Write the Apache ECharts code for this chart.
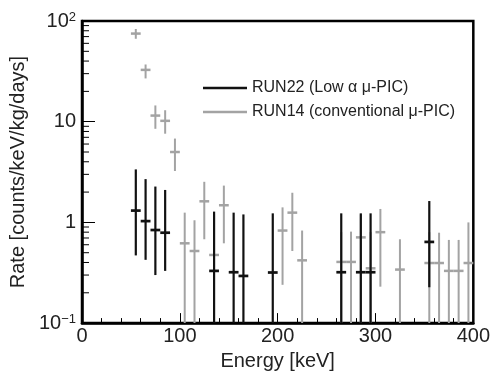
<!DOCTYPE html>
<html><head><meta charset="utf-8">
<script src="https://cdn.jsdelivr.net/npm/echarts@6/dist/echarts.min.js"></script>
<style>html,body{margin:0;padding:0;background:#fff}#c{width:493px;height:376px}</style>
</head><body><div id="c"></div>
<script>
// RUN22 (Low alpha u-PIC)
const energyRun22 = [55, 65, 75, 85, 135, 155, 165, 195, 265, 285, 295, 355];
const rateRun22   = [1.31, 1.03, 0.84, 0.79, 0.33, 0.32, 0.294, 0.318, 0.32, 0.32, 0.32, 0.64];
const lowRun22    = [0.47, 0.425, 0.30, 0.33, 0.01, 0.01, 0.01, 0.01, 0.01, 0.01, 0.01, 0.227];
const highRun22   = [3.36, 2.69, 2.27, 2.1, 1.28, 1.25, 1.2, 1.23, 1.23, 1.23, 1.23, 1.63];
// RUN14 (conventional u-PIC)
const energyRun14 = [55, 65, 75, 85, 95, 105, 115, 125, 135, 145, 205, 215, 225, 265, 275, 285, 295, 305, 325, 355, 365, 375, 385, 395];
const rateRun14   = [75, 32.7, 11.5, 10.2, 5.0, 0.62, 0.52, 1.62, 0.475, 1.48, 0.83, 1.25, 0.42, 0.405, 0.405, 0.71, 0.35, 0.8, 0.34, 0.395, 0.395, 0.33, 0.33, 0.395];
const lowRun14    = [66.6, 26.9, 8.5, 7.6, 3.24, 0.01, 0.01, 0.68, 0.01, 0.62, 0.24, 0.52, 0.01, 0.01, 0.01, 0.01, 0.01, 0.23, 0.01, 0.01, 0.01, 0.01, 0.01, 0.01];
const highRun14   = [83.3, 37, 14.5, 13, 6.8, 1.25, 1.05, 2.53, 1.2, 2.32, 1.41, 1.97, 0.83, 0.8, 0.81, 1.2, 0.8, 1.36, 0.68, 0.8, 0.79, 0.67, 0.67, 1.0];
const binHalfWidth = 5;
const xTicks = [0, 100, 200, 300, 400];
const yMinorTicks = [0.2,0.3,0.4,0.5,0.6,0.7,0.8,0.9,2,3,4,5,6,7,8,9,20,30,40,50,60,70,80,90];

const BLACK = '#111111', GRAY = '#a3a3a3';
const FONT = 'Liberation Sans, Arial, sans-serif';

function build(E, v, lo, hi) {
  return E.map((e, i) => [e, v[i], lo[i], hi[i]]);
}
function errRender(color, width) {
  return function (params, api) {
    const e = api.value(0), v = api.value(1), lo = api.value(2), hi = api.value(3);
    const pTop = api.coord([e, hi]);
    const pBot = api.coord([e, lo]);
    const pL = api.coord([e - binHalfWidth, v]);
    const pR = api.coord([e + binHalfWidth, v]);
    const style = { stroke: color, lineWidth: width, fill: null };
    return {
      type: 'group',
      children: [
        { type: 'line', shape: { x1: pTop[0], y1: pTop[1], x2: pBot[0], y2: pBot[1] }, style: style },
        { type: 'line', shape: { x1: pL[0], y1: pL[1], x2: pR[0], y2: pR[1] }, style: { stroke: color, lineWidth: width + 0.5, fill: null } }
      ]
    };
  };
}

const chart = echarts.init(document.getElementById('c'), null, { renderer: 'canvas' });
chart.setOption({
  animation: false,
  backgroundColor: '#fff',
  textStyle: { fontFamily: FONT },
  grid: { left: 75, right: 18, top: 21, bottom: 45, show: true, borderColor: '#000', borderWidth: 2.5, backgroundColor: 'transparent' },
  legend: {
    orient: 'vertical', left: 198, top: 75, itemWidth: 44, itemHeight: 2.5, itemGap: 8,
    icon: 'rect',
    textStyle: { fontFamily: FONT, fontSize: 16, color: '#222', padding: [0, 0, 0, 0] },
    data: ['RUN22 (Low α μ-PIC)', 'RUN14 (conventional μ-PIC)']
  },
  xAxis: {
    type: 'value', min: 0, max: 400, interval: 100,
    name: 'Energy [keV]', nameLocation: 'middle', nameGap: 22,
    nameTextStyle: { fontFamily: FONT, fontSize: 20, color: '#222' },
    axisLine: { show: true, lineStyle: { color: '#000', width: 2.5 } },
    axisTick: { show: true, inside: true, length: 10, lineStyle: { color: '#000', width: 1 } },
    minorTick: { show: true, splitNumber: 5, length: 5, lineStyle: { color: '#000', width: 1 } },
    axisLabel: { fontFamily: FONT, fontSize: 20, color: '#222', margin: 3,
      formatter: v => xTicks.includes(v) ? String(v) : '' },
    splitLine: { show: false }
  },
  yAxis: {
    type: 'log', min: 0.1, max: 100, logBase: 10,
    name: 'Rate [counts/keV/kg/days]', nameLocation: 'middle', nameGap: 54,
    nameTextStyle: { fontFamily: FONT, fontSize: 20, color: '#222' },
    axisLine: { show: true, lineStyle: { color: '#000', width: 2.5 } },
    axisTick: { show: true, inside: true, length: 13, lineStyle: { color: '#000', width: 1 } },
    axisLabel: {
      fontFamily: FONT, fontSize: 20, color: '#222', margin: 6,
      formatter: function (v) {
        if (Math.abs(v - 100) < 1e-6) return '{m|10}{s|2}';
        if (Math.abs(v - 0.1) < 1e-9) return '{m|10}{s|−1}';
        return '{m|' + Math.round(v) + '}';
      },
      rich: {
        m: { fontFamily: FONT, fontSize: 20, color: '#222' },
        s: { fontFamily: FONT, fontSize: 13, color: '#222', verticalAlign: 'top', padding: [0, 0, 8, 0] }
      }
    },
    splitLine: { show: false }
  },
  series: [
    {
      name: 'yMinor', type: 'custom', silent: true, clip: true, legendHoverLink: false,
      data: yMinorTicks.map(v => [0, v]),
      renderItem: function (params, api) {
        const p = api.coord([0, api.value(1)]);
        return { type: 'line', shape: { x1: p[0], y1: p[1], x2: p[0] + 7, y2: p[1] }, style: { stroke: '#000', lineWidth: 1 } };
      }
    },
    {
      name: 'RUN14 (conventional μ-PIC)', type: 'custom', clip: true,
      itemStyle: { color: GRAY },
      data: build(energyRun14, rateRun14, lowRun14, highRun14),
      encode: { x: 0, y: 1 },
      renderItem: errRender(GRAY, 2)
    },
    {
      name: 'RUN22 (Low α μ-PIC)', type: 'custom', clip: true,
      itemStyle: { color: BLACK },
      data: build(energyRun22, rateRun22, lowRun22, highRun22),
      encode: { x: 0, y: 1 },
      renderItem: errRender(BLACK, 2.2)
    }
  ]
});
</script>
</body></html>
